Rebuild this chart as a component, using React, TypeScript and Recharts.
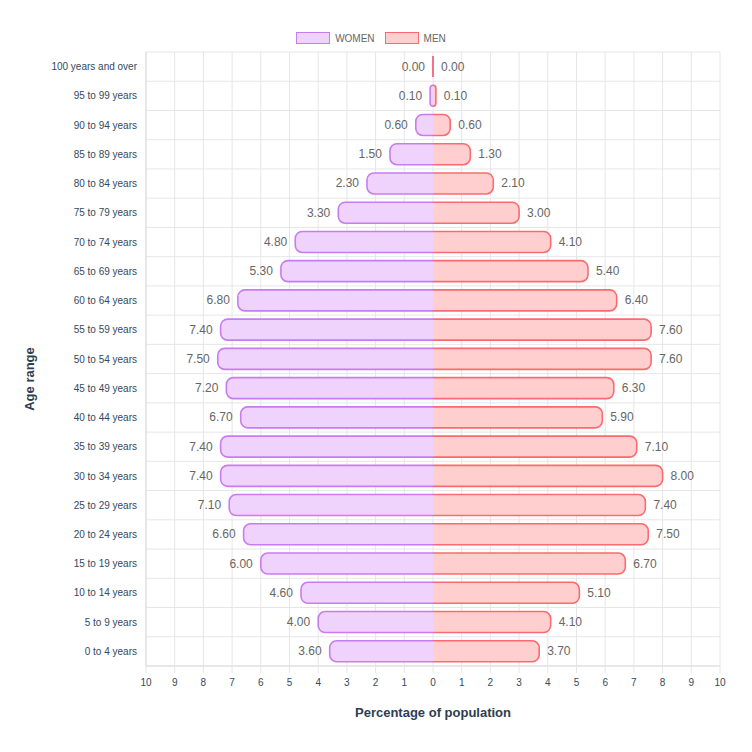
import { BarChart, Bar, XAxis, YAxis, CartesianGrid, Legend } from 'recharts';

const AGE_GROUPS = [
  '100 years and over', '95 to 99 years', '90 to 94 years', '85 to 89 years',
  '80 to 84 years', '75 to 79 years', '70 to 74 years', '65 to 69 years',
  '60 to 64 years', '55 to 59 years', '50 to 54 years', '45 to 49 years',
  '40 to 44 years', '35 to 39 years', '30 to 34 years', '25 to 29 years',
  '20 to 24 years', '15 to 19 years', '10 to 14 years', '5 to 9 years', '0 to 4 years',
];
const WOMEN = [0, 0.1, 0.6, 1.5, 2.3, 3.3, 4.8, 5.3, 6.8, 7.4, 7.5, 7.2, 6.7, 7.4, 7.4, 7.1, 6.6, 6.0, 4.6, 4.0, 3.6];
const MEN = [0, 0.1, 0.6, 1.3, 2.1, 3.0, 4.1, 5.4, 6.4, 7.6, 7.6, 6.3, 5.9, 7.1, 8.0, 7.4, 7.5, 6.7, 5.1, 4.1, 3.7];
const X_TICKS = [-10, -9, -8, -7, -6, -5, -4, -3, -2, -1, 0, 1, 2, 3, 4, 5, 6, 7, 8, 9, 10];

// women go left, so store them negative
const data = AGE_GROUPS.map((age, i) => ({ age, women: -WOMEN[i], men: MEN[i] }));

const FONT = '"Liberation Sans", Arial, Helvetica, sans-serif';
const GRID = '#e6e6e6';
const WOMEN_FILL = '#efd3fc';
const WOMEN_STROKE = '#c97cf2';
const MEN_FILL = '#ffcfcf';
const MEN_STROKE = '#fa6b6f';

const PyramidBar = (props: any) => {
  const { x, y, width, height, fill, stroke, side, value } = props;
  const left = Math.min(x, x + width);
  const w = Math.abs(width);
  const h = height;
  const r = Math.min(7, h / 2, w);
  let strokePath: string;
  if (side === 'left') {
    const right = left + w;
    strokePath = `M${right},${y} H${left + r} A${r},${r} 0 0 0 ${left},${y + r} V${y + h - r} A${r},${r} 0 0 0 ${left + r},${y + h} H${right}`;
  } else {
    const right = left + w;
    strokePath = `M${left},${y} H${right - r} A${r},${r} 0 0 1 ${right},${y + r} V${y + h - r} A${r},${r} 0 0 1 ${right - r},${y + h} H${left}`;
  }
  const raw = Array.isArray(value) ? value[1] - value[0] : value;
  const label = Math.abs(raw).toFixed(2);
  return (
    <g>
      <path d={strokePath + ' Z'} fill={fill} stroke="none" />
      <path d={strokePath} fill="none" stroke={stroke} strokeWidth={1.6} />
      <text
        x={side === 'left' ? left - 8 : left + w + 8}
        y={y + h / 2}
        textAnchor={side === 'left' ? 'end' : 'start'}
        dominantBaseline="central"
        fill="#666"
        fontSize={12}
        fontFamily={FONT}
      >
        {label}
      </text>
    </g>
  );
};

const LegendBox = () => (
  <div style={{ display: 'flex', justifyContent: 'center', alignItems: 'center', fontFamily: FONT, fontSize: 10, color: '#666', marginLeft: -10 }}>
    <span style={{ display: 'inline-block', width: 32, height: 10, background: WOMEN_FILL, border: `1.5px solid ${WOMEN_STROKE}`, marginRight: 5 }} />
    <span style={{ marginRight: 10 }}>WOMEN</span>
    <span style={{ display: 'inline-block', width: 32, height: 10, background: MEN_FILL, border: `1.5px solid ${MEN_STROKE}`, marginRight: 5 }} />
    <span>MEN</span>
  </div>
);

const AgeTitle = ({ viewBox }: any) => {
  const cx = 29;
  const cy = viewBox.y + viewBox.height / 2 + 20;
  return (
    <text
      x={cx}
      y={cy}
      transform={`rotate(-90 ${cx} ${cy})`}
      textAnchor="middle"
      dominantBaseline="central"
      fontSize={13}
      fontWeight="bold"
      fill="#2c3e50"
      fontFamily={FONT}
    >
      Age range
    </text>
  );
};

export default function App() {
  return (
    <div style={{ position: 'absolute', left: 0, top: 0, background: '#fff' }}>
      <BarChart
        width={752}
        height={752}
        data={data}
        layout="vertical"
        stackOffset="sign"
        margin={{ top: 36, right: 32, bottom: 30, left: 0 }}
      >
        <CartesianGrid
          stroke={GRID}
          horizontalCoordinatesGenerator={({ offset }: any) =>
            Array.from({ length: AGE_GROUPS.length + 1 }, (_, i) => offset.top + (i * offset.height) / AGE_GROUPS.length)
          }
        />
        <XAxis
          type="number"
          domain={[-10, 10]}
          ticks={X_TICKS}
          interval={0}
          tickFormatter={(v: number) => String(Math.abs(v))}
          axisLine={{ stroke: '#dcdcdc' }}
          tickLine={{ stroke: GRID }}
          tickSize={7}
          tickMargin={6}
          height={56}
          tick={{ fontSize: 10, fill: '#34495e', fontFamily: FONT }}
          label={{
            value: 'Percentage of population',
            position: 'insideBottom',
            offset: 5,
            style: { fontSize: 13, fontWeight: 'bold', fill: '#2c3e50', fontFamily: FONT },
          }}
        />
        <YAxis
          type="category"
          dataKey="age"
          width={146}
          axisLine={{ stroke: '#dcdcdc' }}
          tickLine={false}
          tickSize={7}
          tickMargin={2}
          interval={0}
          tick={{ fontSize: 10, fill: '#34495e', fontFamily: FONT }}
          label={<AgeTitle />}
        />
        <Legend verticalAlign="top" content={<LegendBox />} wrapperStyle={{ top: 32, left: 0, width: 752, height: 16 }} />
        <Bar
          dataKey="women"
          stackId="a"
          fill={WOMEN_FILL}
          stroke={WOMEN_STROKE}
          barSize={21}
          isAnimationActive={false}
          shape={(p: any) => <PyramidBar {...p} side="left" />}
        />
        <Bar
          dataKey="men"
          stackId="a"
          fill={MEN_FILL}
          stroke={MEN_STROKE}
          barSize={21}
          isAnimationActive={false}
          shape={(p: any) => <PyramidBar {...p} side="right" />}
        />
      </BarChart>
    </div>
  );
}
